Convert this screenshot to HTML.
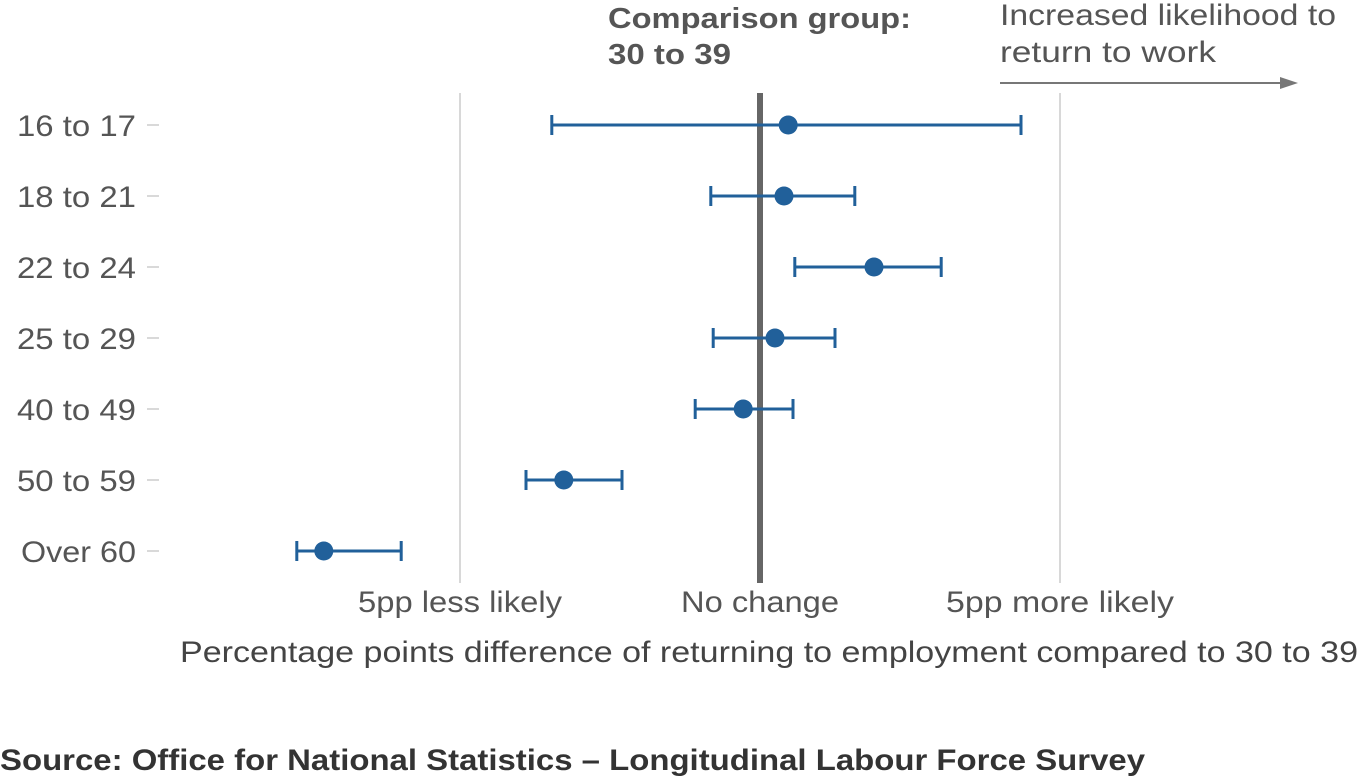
<!DOCTYPE html>
<html><head><meta charset="utf-8"><style>
body{margin:0;background:#fff;}
svg{display:block;font-family:"Liberation Sans",sans-serif;}
</style></head><body>
<svg id="chart" width="1358" height="778">
<g id="grid"></g>
<text x="608" y="28" font-size="29" font-weight="bold" fill="#555" textLength="303" lengthAdjust="spacingAndGlyphs">Comparison group:</text>
<text x="608" y="64" font-size="29" font-weight="bold" fill="#555" textLength="123" lengthAdjust="spacingAndGlyphs">30 to 39</text>
<text x="1000" y="25" font-size="30" fill="#555" textLength="336" lengthAdjust="spacingAndGlyphs">Increased likelihood to</text>
<text x="1000" y="62" font-size="30" fill="#555" textLength="216" lengthAdjust="spacingAndGlyphs">return to work</text>
<g>
<line x1="1000" y1="83" x2="1282" y2="83" stroke="#777" stroke-width="2"/>
<polygon points="1298,83 1280,77 1280,89" fill="#777"/>
</g>
<g id="ylabels"></g>
<g id="marks"></g>
<g id="xlabels"></g>
<text x="180" y="662" font-size="30" fill="#444" textLength="1178" lengthAdjust="spacingAndGlyphs">Percentage points difference of returning to employment compared to 30 to 39</text>
<text x="0" y="770" font-size="30" font-weight="bold" fill="#333" textLength="1145" lengthAdjust="spacingAndGlyphs">Source: Office for National Statistics – Longitudinal Labour Force Survey</text>
</svg>
<script>
const categories=["16 to 17","18 to 21","22 to 24","25 to 29","40 to 49","50 to 59","Over 60"];
const estimates=[0.47,0.4,1.9,0.25,-0.28,-3.27,-7.27];
const lowerCI=[-3.47,-0.82,0.58,-0.78,-1.08,-3.9,-7.72];
const upperCI=[4.35,1.58,3.02,1.25,0.55,-2.3,-5.98];
const tickValues=[-5,0,5];
const tickLabels=["5pp less likely","No change","5pp more likely"];
const tickWidths=[204,158,228];
const NS="http://www.w3.org/2000/svg";
const x=v=>760+v*60;
const y=i=>125+i*71;
function mk(tag,attrs,parent){const e=document.createElementNS(NS,tag);for(const k in attrs)e.setAttribute(k,attrs[k]);parent.appendChild(e);return e;}
const grid=document.getElementById('grid'),marks=document.getElementById('marks'),yl=document.getElementById('ylabels'),xl=document.getElementById('xlabels');
tickValues.forEach((v,i)=>{
 const l=mk('line',{x1:x(v),x2:x(v),y1:93,y2:583,stroke:v===0?'#666':'#ccc','stroke-width':v===0?6:1.5},grid);
 
 
 const t=mk('text',{x:x(v),y:612,'font-size':30,fill:'#555','text-anchor':'middle',textLength:tickWidths[i],lengthAdjust:'spacingAndGlyphs'},xl);
 t.textContent=tickLabels[i];
 
 
});
categories.forEach((c,i)=>{
 const t=mk('text',{x:136,y:y(i)+11,'font-size':30,fill:'#555','text-anchor':'end',textLength:c==='Over 60'?115:119,lengthAdjust:'spacingAndGlyphs'},yl);
 t.textContent=c;
 
 
 const tk=mk('line',{x1:147,x2:159,y1:y(i),y2:y(i),stroke:'#ccc','stroke-width':1.5},yl);
 
 
 const g=mk('g',{},marks);
 
 
 mk('line',{x1:x(lowerCI[i]),x2:x(upperCI[i]),y1:y(i),y2:y(i),stroke:'#21609a','stroke-width':3},g);
 mk('line',{x1:x(lowerCI[i]),x2:x(lowerCI[i]),y1:y(i)-10,y2:y(i)+10,stroke:'#21609a','stroke-width':3},g);
 mk('line',{x1:x(upperCI[i]),x2:x(upperCI[i]),y1:y(i)-10,y2:y(i)+10,stroke:'#21609a','stroke-width':3},g);
 const p=mk('circle',{cx:x(estimates[i]),cy:y(i),r:9.5,fill:'#21609a'},marks);
 
 
});
</script>
</body></html>
